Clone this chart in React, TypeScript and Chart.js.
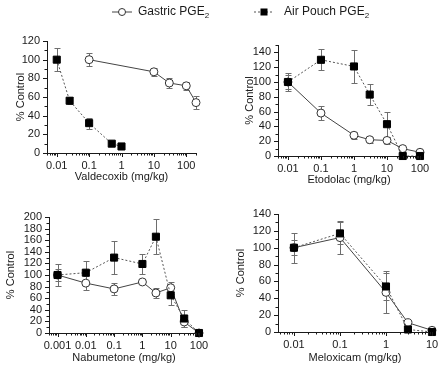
import React, { useEffect, useRef } from 'react';
import { Chart, registerables } from 'chart.js';
Chart.register(...registerables);

const FONT = 'Arial, "Liberation Sans", Helvetica, sans-serif';
const INK = '#1a1a1a';

// ---- Valdecoxib ----
const valdecoxibGastricDose = [0.1, 10, 30, 100, 200];
const valdecoxibGastric = [100, 87, 75, 72, 54];
const valdecoxibGastricErr = [7, 4, 5, 4, 7];
const valdecoxibPouchDose = [0.01, 0.025, 0.1, 0.5, 1];
const valdecoxibPouch = [100, 56, 32, 10, 7];
const valdecoxibPouchErr = [12, 4, 6, 0, 0];

// ---- Etodolac ----
const etodolacDose = [0.01, 0.1, 1, 3, 10, 30, 100];
const etodolacGastric = [100, 58, 28, 22, 21, 10, 5];
const etodolacGastricErr = [12, 9, 5, 4, 5, 1, 1];
const etodolacPouch = [100, 130, 121, 83, 43, 0, 0];
const etodolacPouchErr = [10, 14, 22, 14, 17, 0, 0];

// ---- Nabumetone ----
const nabumetoneDose = [0.001, 0.01, 0.1, 1, 3, 10, 30, 100];
const nabumetoneGastric = [100, 86, 76, 88, 69, 78, 19, 0];
const nabumetoneGastricErr = [10, 12, 10, 3, 8, 10, 8, 0];
const nabumetonePouch = [100, 104, 130, 119, 166, 65, 25, 0];
const nabumetonePouchErr = [19, 20, 29, 17, 30, 16, 15, 0];

// ---- Meloxicam ----
const meloxicamDose = [0.01, 0.1, 1, 3, 10];
const meloxicamGastric = [100, 112, 47, 11, 2];
const meloxicamGastricErr = [9, 20, 25, 2, 1];
const meloxicamPouch = [100, 117, 54, 3, 0];
const meloxicamPouchErr = [18, 13, 16, 0, 0];

// ---- tick labels ----
const xTickLabelsValdecoxib = ['0.01', '0.1', '1', '10', '100'];
const xTickLabelsEtodolac = ['0.01', '0.1', '1', '10', '100'];
const xTickLabelsNabumetone = ['0.001', '0.01', '0.1', '1', '10', '100'];
const xTickLabelsMeloxicam = ['0.01', '0.1', '1', '10'];

const legendLabels = ['Gastric PGE', 'Air Pouch PGE'];

type Panel = {
  title: string;
  qx: number; qy: number; qh: number;
  l: number; r: number; t: number; b: number;
  W: number; H: number;
  xMin: number; xMax: number; yMax: number;
  xLabels: string[];
  gDose: number[]; g: number[]; gErr: number[];
  pDose: number[]; p: number[]; pErr: number[];
};

const panels: Panel[] = [
  { title: 'Valdecoxib (mg/kg)', qx: 0, qy: 0, qh: 195, l: 47, r: 196, t: 41, b: 153, W: 33, H: 31,
    xMin: 0.005, xMax: 200, yMax: 120, xLabels: xTickLabelsValdecoxib,
    gDose: valdecoxibGastricDose, g: valdecoxibGastric, gErr: valdecoxibGastricErr,
    pDose: valdecoxibPouchDose, p: valdecoxibPouch, pErr: valdecoxibPouchErr },
  { title: 'Etodolac (mg/kg)', qx: 220, qy: 0, qh: 195, l: 278, r: 420, t: 45, b: 156, W: 35, H: 31,
    xMin: 0.005, xMax: 100, yMax: 150, xLabels: xTickLabelsEtodolac,
    gDose: etodolacDose, g: etodolacGastric, gErr: etodolacGastricErr,
    pDose: etodolacDose, p: etodolacPouch, pErr: etodolacPouchErr },
  { title: 'Nabumetone (mg/kg)', qx: 0, qy: 195, qh: 171, l: 49, r: 199, t: 217, b: 333, W: 45, H: 32,
    xMin: 0.0005, xMax: 100, yMax: 200, xLabels: xTickLabelsNabumetone,
    gDose: nabumetoneDose, g: nabumetoneGastric, gErr: nabumetoneGastricErr,
    pDose: nabumetoneDose, p: nabumetonePouch, pErr: nabumetonePouchErr },
  { title: 'Meloxicam (mg/kg)', qx: 220, qy: 195, qh: 171, l: 278, r: 432, t: 214, b: 332, W: 44, H: 33,
    xMin: 0.0045, xMax: 10, yMax: 140, xLabels: xTickLabelsMeloxicam,
    gDose: meloxicamDose, g: meloxicamGastric, gErr: meloxicamGastricErr,
    pDose: meloxicamDose, p: meloxicamPouch, pErr: meloxicamPouchErr },
];

function logTicks(min: number, max: number) {
  const out: { value: number }[] = [];
  const e0 = Math.floor(Math.log10(min)) - 1;
  const e1 = Math.ceil(Math.log10(max)) + 1;
  for (let e = e0; e <= e1; e++) {
    for (let m = 1; m <= 9; m++) {
      const v = parseFloat((m * Math.pow(10, e)).toPrecision(6));
      if (v >= min * 0.9999 && v <= max * 1.0001) out.push({ value: v });
    }
  }
  return out;
}

const errorBars = {
  id: 'errorBars',
  beforeDatasetsDraw(chart: any) {
    const { ctx } = chart;
    const xs = chart.scales.x, ys = chart.scales.y;
    ctx.save();
    ctx.strokeStyle = '#6e6e6e';
    ctx.lineWidth = 1;
    chart.data.datasets.forEach((ds: any) => {
      const errs: number[] = ds.errors;
      if (!errs) return;
      ds.data.forEach((pt: any, i: number) => {
        const e = errs[i];
        if (!e) return;
        const px = Math.round(xs.getPixelForValue(pt.x)) + 0.5;
        const top = Math.round(ys.getPixelForValue(pt.y + e)) + 0.5;
        const bot = Math.round(ys.getPixelForValue(pt.y - e)) + 0.5;
        ctx.beginPath();
        ctx.moveTo(px, top); ctx.lineTo(px, bot);
        ctx.moveTo(px - 3, top); ctx.lineTo(px + 3, top);
        ctx.moveTo(px - 3, bot); ctx.lineTo(px + 3, bot);
        ctx.stroke();
      });
    });
    ctx.restore();
  },
};

const tickMarks = {
  id: 'tickMarks',
  afterDraw(chart: any) {
    const { ctx, chartArea } = chart;
    const xs = chart.scales.x, ys = chart.scales.y;
    ctx.save();
    ctx.strokeStyle = INK;
    ctx.lineWidth = 1;
    ctx.beginPath();
    xs.ticks.forEach((t: any) => {
      const px = Math.round(xs.getPixelForValue(t.value)) + 0.5;
      const len = t.label ? 4 : 2.5;
      ctx.moveTo(px, chartArea.bottom);
      ctx.lineTo(px, chartArea.bottom + len);
    });
    ys.ticks.forEach((t: any) => {
      const py = Math.round(ys.getPixelForValue(t.value)) + 0.5;
      const len = t.label ? 4 : 2.5;
      ctx.moveTo(chartArea.left, py);
      ctx.lineTo(chartArea.left - len, py);
    });
    ctx.stroke();
    ctx.restore();
  },
};

function PanelChart({ p }: { p: Panel }) {
  const ref = useRef<HTMLCanvasElement>(null);
  useEffect(() => {
    const canvas = ref.current!;
    const chart = new Chart(canvas, {
      type: 'line',
      data: {
        datasets: [
          {
            label: legendLabels[0],
            data: p.gDose.map((x, i) => ({ x, y: p.g[i] })),
            errors: p.gErr,
            borderColor: '#444',
            borderWidth: 1,
            pointStyle: 'circle',
            pointRadius: 4,
            pointBackgroundColor: '#ffffff',
            pointBorderColor: '#333',
            pointBorderWidth: 1,
            clip: false,
            order: 1,
          } as any,
          {
            label: legendLabels[1],
            data: p.pDose.map((x, i) => ({ x, y: p.p[i] })),
            errors: p.pErr,
            borderColor: '#555',
            borderWidth: 1,
            borderDash: [2, 2],
            pointStyle: 'rect',
            pointRadius: 5,
            pointBackgroundColor: '#000',
            pointBorderColor: '#000',
            pointBorderWidth: 1,
            clip: false,
            order: 0,
          } as any,
        ],
      },
      options: {
        responsive: false,
        animation: false,
        events: [],
        layout: {
          padding: {
            left: p.l - p.qx - p.W,
            top: p.t - p.qy,
            right: p.qx + 220 - p.r,
            bottom: p.qy + p.qh - p.b - p.H,
          },
        },
        plugins: { legend: { display: false }, tooltip: { enabled: false } },
        scales: {
          x: {
            type: 'logarithmic',
            min: p.xMin,
            max: p.xMax,
            afterBuildTicks: (s: any) => { s.ticks = logTicks(p.xMin, p.xMax); },
            afterFit: (s: any) => { s.height = p.H; s.paddingLeft = 0; s.paddingRight = 0; },
            grid: { display: false, drawTicks: false, tickLength: 0 },
            border: { display: true, color: INK, width: 1 },
            ticks: {
              autoSkip: false,
              maxRotation: 0,
              minRotation: 0,
              padding: 6,
              color: INK,
              font: { family: FONT, size: 11 },
              callback: (v: any) => {
                const lab = p.xLabels.find((s) => Math.abs(parseFloat(s) - v) < v * 1e-6);
                return lab ?? '';
              },
            },
            title: { display: true, text: p.title, color: INK, font: { family: FONT, size: 11 }, padding: 0 },
          },
          y: {
            type: 'linear',
            min: 0,
            max: p.yMax,
            afterFit: (s: any) => { s.width = p.W; s.paddingTop = 0; s.paddingBottom = 0; },
            grid: { display: false, drawTicks: false, tickLength: 0 },
            border: { display: true, color: INK, width: 1 },
            ticks: {
              stepSize: 10,
              autoSkip: false,
              padding: 7,
              color: INK,
              font: { family: FONT, size: 11 },
              callback: (v: any) => (Number(v) % 20 === 0 ? String(v) : ''),
            },
            title: { display: true, text: '% Control', color: INK, font: { family: FONT, size: 11 }, padding: 0 },
          },
        },
      } as any,
      plugins: [errorBars, tickMarks],
    });
    return () => chart.destroy();
  }, [p]);
  return (
    <canvas
      ref={ref}
      width={220}
      height={p.qh}
      style={{ position: 'absolute', left: p.qx, top: p.qy, width: 220, height: p.qh }}
    />
  );
}

export default function App() {
  return (
    <div style={{ position: 'absolute', left: 0, top: 0, width: 440, height: 366, background: '#fff', overflow: 'hidden' }}>
      {panels.map((p, i) => (
        <PanelChart key={i} p={p} />
      ))}
      <div style={{ position: 'absolute', left: 0, top: 0, width: 440, height: 30, font: `12px ${FONT}`, color: INK, zIndex: 2 }}>
        <svg style={{ position: 'absolute', left: 112, top: 6 }} width={20} height={12}>
          <line x1={0} y1={6} x2={20} y2={6} stroke="#444" strokeWidth={1} />
          <circle cx={10} cy={6} r={3.5} fill="#fff" stroke="#333" strokeWidth={1} />
        </svg>
        <span style={{ position: 'absolute', left: 138, top: 4, whiteSpace: 'nowrap', lineHeight: '14px' }}>
          {legendLabels[0]}<sub style={{ fontSize: 8, verticalAlign: -3, lineHeight: 0 }}>2</sub>
        </span>
        <svg style={{ position: 'absolute', left: 254, top: 6 }} width={20} height={12}>
          <line x1={0} y1={6} x2={20} y2={6} stroke="#555" strokeWidth={1} strokeDasharray="2 2" />
          <rect x={6.5} y={2.5} width={7} height={7} fill="#000" />
        </svg>
        <span style={{ position: 'absolute', left: 284, top: 4, whiteSpace: 'nowrap', lineHeight: '14px' }}>
          {legendLabels[1]}<sub style={{ fontSize: 8, verticalAlign: -3, lineHeight: 0 }}>2</sub>
        </span>
      </div>
    </div>
  );
}
